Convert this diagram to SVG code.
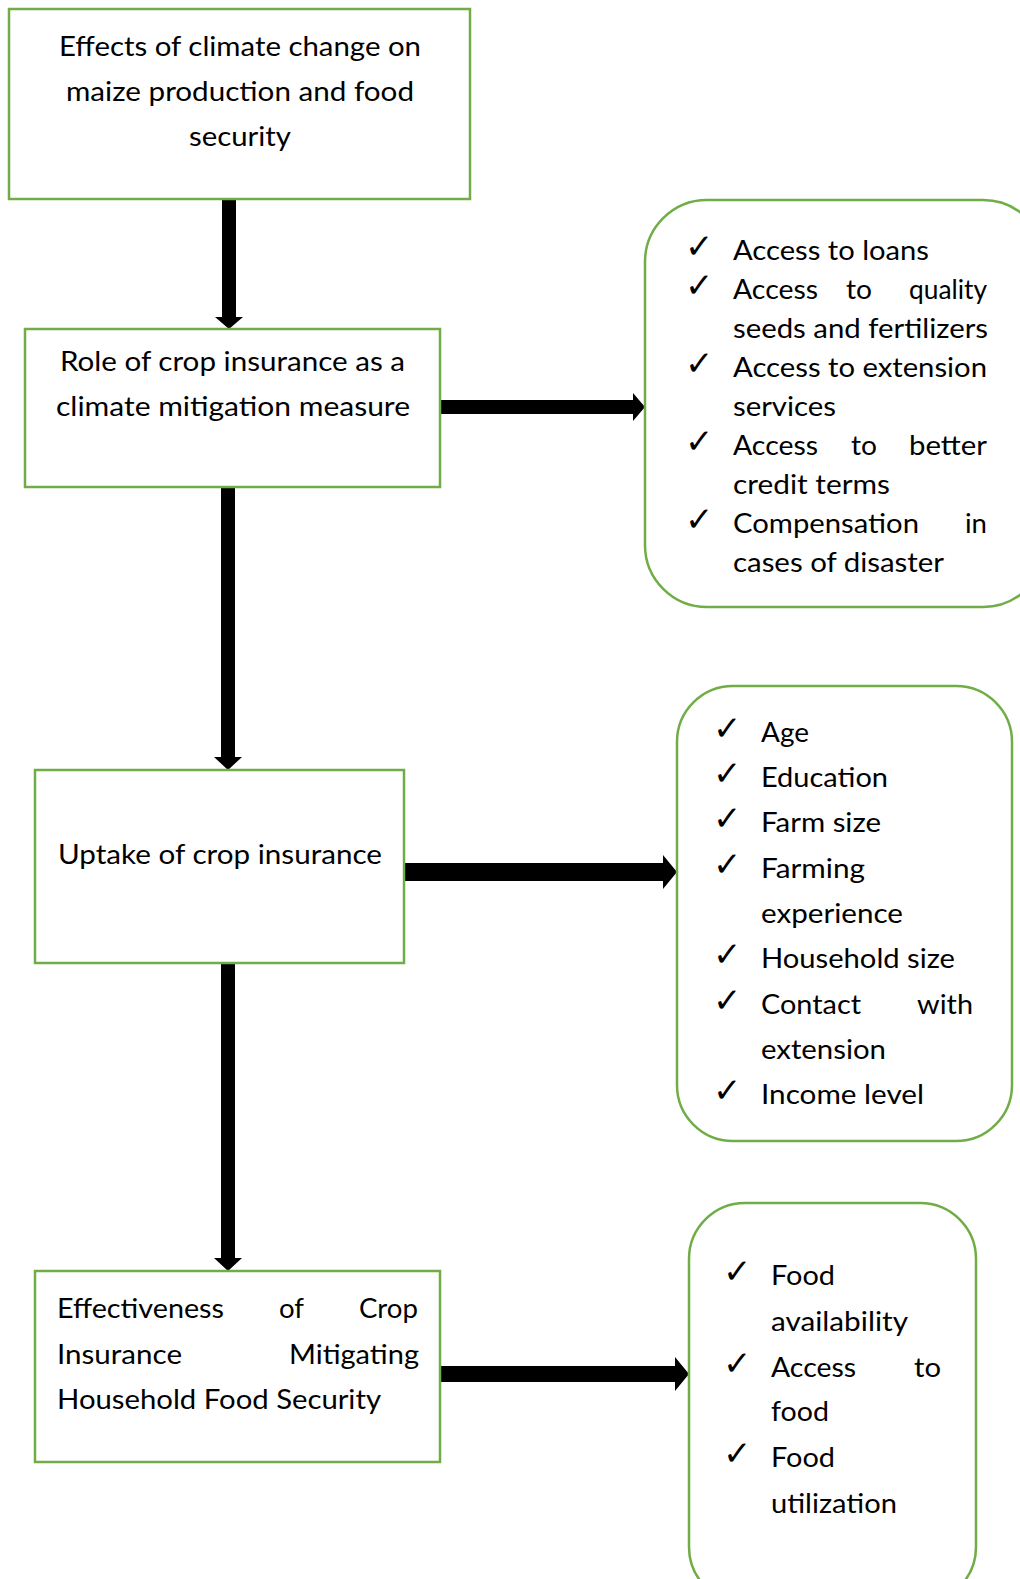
<svg xmlns="http://www.w3.org/2000/svg" width="1020" height="1579" viewBox="0 0 1020 1579">
<style>
.box{fill:#fff;stroke:#70AD47;stroke-width:2.5}
.t{font-family:Lato,"Open Sans","Liberation Sans",sans-serif;font-size:27px;fill:#000}
.ck{font-family:"DejaVu Sans",sans-serif;font-size:34px;font-weight:bold;fill:#000}
.arr{fill:#000}
</style>
<rect width="1020" height="1579" fill="#fff"/>
<g id="connectors">
<polygon class="arr" points="222,198 236,198 236,317 243,317 229,329 215,317 222,317"/>
<polygon class="arr" points="221,486 235,486 235,757 242,757 228,770 214,757 221,757"/>
<polygon class="arr" points="221,962 235,962 235,1258 242,1258 228,1271 214,1258 221,1258"/>
<polygon class="arr" points="439,400 633,400 633,393 645,407 633,421 633,414 439,414"/>
<polygon class="arr" points="403,863 663,863 663,855 677,872 663,889 663,881 403,881"/>
<polygon class="arr" points="439,1366 675,1366 675,1357 689,1374 675,1391 675,1382 439,1382"/>
</g>
<g id="node-effects">
<rect class="box" x="9" y="9" width="461" height="190"/>
<text class="t" x="59" y="56" textLength="362" lengthAdjust="spacingAndGlyphs">Effects of climate change on</text>
<text class="t" x="66" y="101" textLength="348" lengthAdjust="spacingAndGlyphs">maize production and food</text>
<text class="t" x="189" y="146" textLength="102" lengthAdjust="spacingAndGlyphs">security</text>
</g>
<g id="node-role">
<rect class="box" x="25" y="329" width="415" height="158"/>
<text class="t" x="60" y="371" textLength="345" lengthAdjust="spacingAndGlyphs">Role of crop insurance as a</text>
<text class="t" x="56" y="416" textLength="354" lengthAdjust="spacingAndGlyphs">climate mitigation measure</text>
</g>
<g id="node-benefits">
<rect class="box" x="645" y="200" width="400" height="407" rx="62" ry="62"/>
<text class="ck" x="685" y="258">✓</text>
<text class="ck" x="685" y="297">✓</text>
<text class="ck" x="685" y="375">✓</text>
<text class="ck" x="685" y="453">✓</text>
<text class="ck" x="685" y="531">✓</text>
<text class="t" x="733" y="260" textLength="196" lengthAdjust="spacingAndGlyphs">Access to loans</text>
<text class="t" x="733" y="299" textLength="85" lengthAdjust="spacingAndGlyphs">Access</text>
<text class="t" x="846" y="299" textLength="26" lengthAdjust="spacingAndGlyphs">to</text>
<text class="t" x="909" y="299" textLength="78" lengthAdjust="spacingAndGlyphs">quality</text>
<text class="t" x="733" y="338" textLength="255" lengthAdjust="spacingAndGlyphs">seeds and fertilizers</text>
<text class="t" x="733" y="377" textLength="254" lengthAdjust="spacingAndGlyphs">Access to extension</text>
<text class="t" x="733" y="416" textLength="103" lengthAdjust="spacingAndGlyphs">services</text>
<text class="t" x="733" y="455" textLength="85" lengthAdjust="spacingAndGlyphs">Access</text>
<text class="t" x="851" y="455" textLength="26" lengthAdjust="spacingAndGlyphs">to</text>
<text class="t" x="909" y="455" textLength="78" lengthAdjust="spacingAndGlyphs">better</text>
<text class="t" x="733" y="494" textLength="157" lengthAdjust="spacingAndGlyphs">credit terms</text>
<text class="t" x="733" y="533" textLength="186" lengthAdjust="spacingAndGlyphs">Compensation</text>
<text class="t" x="965" y="533" textLength="22" lengthAdjust="spacingAndGlyphs">in</text>
<text class="t" x="733" y="572" textLength="211" lengthAdjust="spacingAndGlyphs">cases of disaster</text>
</g>
<g id="node-uptake">
<rect class="box" x="35" y="770" width="369" height="193"/>
<text class="t" x="58" y="864" textLength="324" lengthAdjust="spacingAndGlyphs">Uptake of crop insurance</text>
</g>
<g id="node-factors">
<rect class="box" x="677" y="686" width="335" height="455" rx="56" ry="56"/>
<text class="ck" x="713" y="740">✓</text>
<text class="ck" x="713" y="785">✓</text>
<text class="ck" x="713" y="830">✓</text>
<text class="ck" x="713" y="876">✓</text>
<text class="ck" x="713" y="966">✓</text>
<text class="ck" x="713" y="1012">✓</text>
<text class="ck" x="713" y="1102">✓</text>
<text class="t" x="761" y="742" textLength="48" lengthAdjust="spacingAndGlyphs">Age</text>
<text class="t" x="761" y="787" textLength="127" lengthAdjust="spacingAndGlyphs">Education</text>
<text class="t" x="761" y="832" textLength="120" lengthAdjust="spacingAndGlyphs">Farm size</text>
<text class="t" x="761" y="878" textLength="104" lengthAdjust="spacingAndGlyphs">Farming</text>
<text class="t" x="761" y="923" textLength="142" lengthAdjust="spacingAndGlyphs">experience</text>
<text class="t" x="761" y="968" textLength="194" lengthAdjust="spacingAndGlyphs">Household size</text>
<text class="t" x="761" y="1014" textLength="100" lengthAdjust="spacingAndGlyphs">Contact</text>
<text class="t" x="917" y="1014" textLength="56" lengthAdjust="spacingAndGlyphs">with</text>
<text class="t" x="761" y="1059" textLength="125" lengthAdjust="spacingAndGlyphs">extension</text>
<text class="t" x="761" y="1104" textLength="163" lengthAdjust="spacingAndGlyphs">Income level</text>
</g>
<g id="node-effectiveness">
<rect class="box" x="35" y="1271" width="405" height="191"/>
<text class="t" x="57" y="1318" textLength="167" lengthAdjust="spacingAndGlyphs">Effectiveness</text>
<text class="t" x="279" y="1318" textLength="25" lengthAdjust="spacingAndGlyphs">of</text>
<text class="t" x="359" y="1318" textLength="59" lengthAdjust="spacingAndGlyphs">Crop</text>
<text class="t" x="57" y="1364" textLength="125" lengthAdjust="spacingAndGlyphs">Insurance</text>
<text class="t" x="289" y="1364" textLength="130" lengthAdjust="spacingAndGlyphs">Mitigating</text>
<text class="t" x="57" y="1409" textLength="324" lengthAdjust="spacingAndGlyphs">Household Food Security</text>
</g>
<g id="node-foodsecurity">
<rect class="box" x="689" y="1203" width="287" height="400" rx="56" ry="56"/>
<text class="ck" x="723" y="1283">✓</text>
<text class="ck" x="723" y="1375">✓</text>
<text class="ck" x="723" y="1465">✓</text>
<text class="t" x="771" y="1285" textLength="64" lengthAdjust="spacingAndGlyphs">Food</text>
<text class="t" x="771" y="1331" textLength="137" lengthAdjust="spacingAndGlyphs">availability</text>
<text class="t" x="771" y="1377" textLength="85" lengthAdjust="spacingAndGlyphs">Access</text>
<text class="t" x="914" y="1377" textLength="27" lengthAdjust="spacingAndGlyphs">to</text>
<text class="t" x="771" y="1421" textLength="58" lengthAdjust="spacingAndGlyphs">food</text>
<text class="t" x="771" y="1467" textLength="64" lengthAdjust="spacingAndGlyphs">Food</text>
<text class="t" x="771" y="1513" textLength="126" lengthAdjust="spacingAndGlyphs">utilization</text>
</g>
</svg>
